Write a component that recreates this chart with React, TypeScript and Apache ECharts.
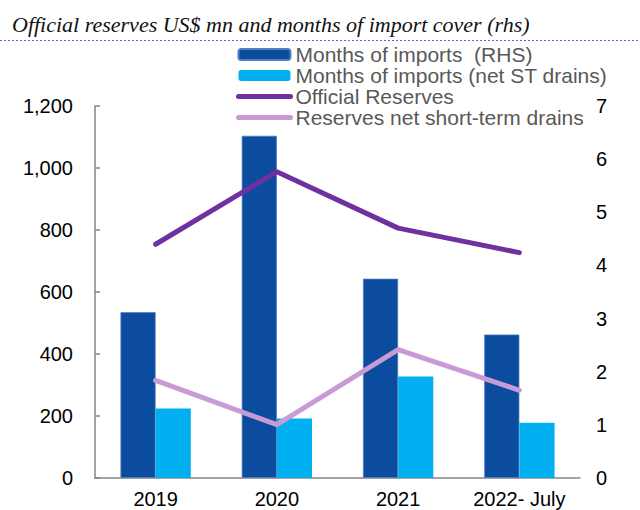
import React, { useEffect, useRef } from "react";
import * as echarts from "echarts";

const categories = ["2019", "2020", "2021", "2022- July"];
const monthsImports = [3.12, 6.44, 3.75, 2.7];
const monthsImportsNet = [1.31, 1.12, 1.91, 1.04];
const officialReserves = [754, 988, 806, 727];
const reservesNetST = [315, 172, 414, 283];
const leftTicks = { min: 0, max: 1200, interval: 200 };
const rightTicks = { min: 0, max: 7, interval: 1 };

export default function App() {
  const ref = useRef<HTMLDivElement>(null);
  useEffect(() => {
    if (!ref.current) return;
    const chart = echarts.init(ref.current, null, { renderer: "svg" });
    const axisColor = "#868686";
    const labelFont = { color: "#000", fontSize: 20, fontFamily: "Liberation Sans, Arial, sans-serif" };
    const legendLine = { width: 5, cap: "round" };
    chart.setOption({
      animation: false,
      backgroundColor: "#fff",
      grid: { left: 95, right: 60, top: 106, bottom: 32, containLabel: false, outerBoundsMode: "none" },
      legend: {
        orient: "vertical",
        left: 236,
        top: 44,
        padding: 0,
        itemWidth: 52,
        itemHeight: 11,
        itemGap: 0,
        textStyle: { color: "#595959", fontSize: 21, lineHeight: 21, fontFamily: "Liberation Sans, Arial, sans-serif" },
        data: [
          { name: "Months of imports  (RHS)" },
          { name: "Months of imports (net ST drains)" },
          { name: "Official Reserves", itemStyle: { opacity: 0 }, lineStyle: legendLine },
          { name: "Reserves net short-term drains", itemStyle: { opacity: 0 }, lineStyle: legendLine },
        ],
      },
      xAxis: {
        type: "category",
        data: categories,
        boundaryGap: true,
        axisLine: { lineStyle: { color: axisColor, width: 1.5 } },
        axisTick: { inside: true, length: 5, lineStyle: { color: axisColor, width: 1.5 } },
        axisLabel: { ...labelFont, margin: 11 },
      },
      yAxis: [
        {
          type: "value",
          ...leftTicks,
          position: "left",
          axisLine: { show: true, lineStyle: { color: axisColor, width: 1.5 } },
          axisTick: { show: true, inside: true, length: 5, lineStyle: { color: axisColor, width: 1.5 } },
          splitLine: { show: false },
          axisLabel: {
            ...labelFont,
            margin: 22,
            formatter: (v: number) => v.toLocaleString("en-US"),
          },
        },
        {
          type: "value",
          ...rightTicks,
          position: "right",
          axisLine: { show: false },
          axisTick: { show: false },
          splitLine: { show: false },
          axisLabel: { ...labelFont, margin: 16 },
        },
      ],
      series: [
        {
          name: "Months of imports  (RHS)",
          type: "bar",
          yAxisIndex: 1,
          data: monthsImports,
          barGap: "0%",
          barCategoryGap: "42%",
          itemStyle: { color: "#0B4C9F", borderColor: "#4F7FBF", borderWidth: 0.8 },
        },
        {
          name: "Months of imports (net ST drains)",
          type: "bar",
          yAxisIndex: 1,
          data: monthsImportsNet,
          barGap: "0%",
          barCategoryGap: "42%",
          itemStyle: { color: "#00B0F0" },
        },
        {
          name: "Official Reserves",
          type: "line",
          yAxisIndex: 0,
          data: officialReserves,
          symbol: "none",
          itemStyle: { color: "#7030A0" },
          lineStyle: { color: "#7030A0", width: 5, cap: "round", join: "round" },
        },
        {
          name: "Reserves net short-term drains",
          type: "line",
          yAxisIndex: 0,
          data: reservesNetST,
          symbol: "none",
          itemStyle: { color: "#C89BD7" },
          lineStyle: { color: "#C89BD7", width: 5, cap: "round", join: "round" },
        },
      ],
      graphic: [
        {
          type: "text",
          left: 12,
          top: 13,
          style: {
            text: "Official reserves US$ mn and months of import cover (rhs)",
            font: "italic 22px 'Liberation Serif', 'DejaVu Serif', serif",
            fill: "#111",
          },
        },
        {
          type: "line",
          shape: { x1: 0, y1: 40.5, x2: 640, y2: 40.5 },
          style: { stroke: "#4472C4", lineWidth: 1, lineDash: [2, 2] },
        },
      ],
    });
    return () => chart.dispose();
  }, []);
  return (
    <div
      ref={ref}
      style={{ position: "absolute", left: 0, top: 0, width: 640, height: 510 }}
    />
  );
}
